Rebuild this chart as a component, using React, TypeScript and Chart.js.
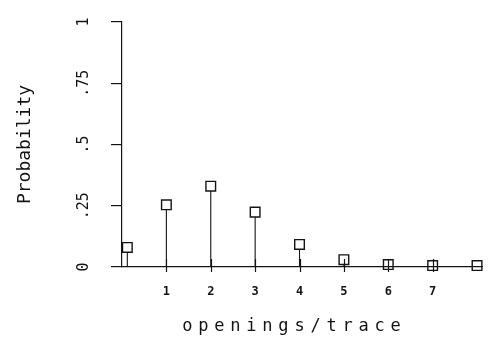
import React, { useEffect, useRef } from "react";
import { Chart, registerables } from "chart.js";

Chart.register(...registerables);

// ---- data ----
const xValues = [0.12, 1, 2, 3, 4, 5, 6, 7, 8];
const probabilities = [0.08, 0.254, 0.33, 0.224, 0.092, 0.03, 0.01, 0.006, 0.006];
const xTickValues = [1, 2, 3, 4, 5, 6, 7];
const yTickValues = [0, 0.25, 0.5, 0.75, 1];
const yTickLabels = ["0", ".25", ".5", ".75", "1"];
const xTitle = "openings/trace";
const yTitle = "Probability";

const INK = "#141414";
const FONT = "'DejaVu Sans Mono', monospace";

const textLayerPlugin = {
  id: "textLayer",
  beforeDraw(chart: any) {
    const ctx = chart.ctx;
    ctx.save();
    ctx.letterSpacing = "5.8px";
    ctx.translate(-8, 0);
  },
  beforeDatasetsDraw(chart: any) {
    chart.ctx.restore();
  },
  afterDatasetsDraw(chart: any) {
    const ctx = chart.ctx;
    const xs = chart.scales.x;
    const ys = chart.scales.y;
    const y0 = ys.getPixelForValue(0);
    ctx.save();
    ctx.strokeStyle = INK;
    ctx.lineWidth = 1.2;
    xs.ticks.forEach((t: any) => {
      const px = Math.round(xs.getPixelForValue(t.value)) + 0.5;
      ctx.beginPath();
      ctx.moveTo(px, y0 - 8);
      ctx.lineTo(px, y0 + 5);
      ctx.stroke();
    });
    ctx.restore();
  },
};

export default function App() {
  const ref = useRef<HTMLCanvasElement | null>(null);

  useEffect(() => {
    if (!ref.current) return;
    const stemData: any[] = [];
    xValues.forEach((x, i) => {
      stemData.push({ x, y: 0 });
      stemData.push({ x, y: probabilities[i] });
      stemData.push({ x, y: null });
    });

    const chart = new Chart(ref.current, {
      type: "scatter",
      data: {
        datasets: [
          {
            type: "scatter",
            data: xValues.map((x, i) => ({ x, y: probabilities[i] })),
            pointStyle: "rect",
            pointRadius: 6.8,
            pointBackgroundColor: "#ffffff",
            pointBorderColor: INK,
            pointBorderWidth: 1.4,
            showLine: false,
            clip: false,
            order: 0,
          } as any,
          {
            type: "line",
            data: stemData,
            borderColor: INK,
            borderWidth: 1.1,
            pointRadius: 0,
            showLine: true,
            spanGaps: false,
            clip: false,
            order: 1,
          } as any,
        ],
      },
      options: {
        animation: false,
        responsive: false,
        devicePixelRatio: 1,
        layout: { padding: { top: 10, right: 2, left: 0, bottom: 0 } },
        plugins: { legend: { display: false }, tooltip: { enabled: false } },
        scales: {
          x: {
            type: "linear",
            min: 0,
            max: 8.13,
            afterBuildTicks: (s: any) => {
              s.ticks = xTickValues.map((v) => ({ value: v }));
            },
            afterFit: (s: any) => {
              s.height = 72;
            },
            grid: { display: false, z: -1 },
            border: { display: true, color: INK, width: 1.2, z: 1 },
            ticks: {
              z: 1,
              padding: 10,
              color: INK,
              font: { family: FONT, size: 12, weight: "bold" },
              callback: (v: any) => String(v),
              maxRotation: 0,
              minRotation: 0,
            },
            title: {
              display: true,
              text: xTitle,
              color: INK,
              font: { family: FONT, size: 17 },
              padding: { top: 0, bottom: 2 },
            },
          },
          y: {
            type: "linear",
            min: 0,
            max: 1,
            afterBuildTicks: (s: any) => {
              s.ticks = yTickValues.map((v) => ({ value: v }));
            },
            afterFit: (s: any) => {
              s.width = 122;
            },
            grid: {
              display: true,
              drawOnChartArea: false,
              drawTicks: true,
              tickLength: 11,
              color: INK,
              lineWidth: 1.2,
              z: 1,
            },
            border: { display: true, color: INK, width: 1.2, z: 1 },
            ticks: {
              z: 1,
              padding: 13,
              color: INK,
              crossAlign: "center",
              minRotation: 90,
              maxRotation: 90,
              font: { family: FONT, size: 15 },
              callback: (_v: any, i: number) => yTickLabels[i],
            },
            title: {
              display: true,
              text: yTitle,
              color: INK,
              font: { family: FONT, size: 18 },
              padding: { top: 15, bottom: 0 },
            },
          },
        },
      } as any,
      plugins: [textLayerPlugin],
    });
    return () => chart.destroy();
  }, []);

  return (
    <div style={{ position: "fixed", left: 0, top: 0, width: 491, height: 339, background: "#fff" }}>
      <canvas ref={ref} width={491} height={339} style={{ width: 491, height: 339, display: "block" }} />
    </div>
  );
}
